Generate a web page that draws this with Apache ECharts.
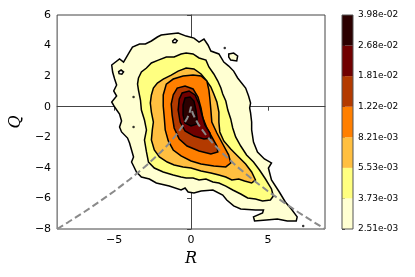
<!DOCTYPE html>
<html><head><meta charset="utf-8">
<script src="https://cdn.jsdelivr.net/npm/echarts@6/dist/echarts.min.js"></script>
<style>html,body{margin:0;padding:0;background:#fff}#c{width:415px;height:277px}</style>
</head><body><div id="c"></div>
<script>
// ---- data ----
const xTicks = [-5, 0, 5];
const levels = [0.00251, 0.00373, 0.00553, 0.00821, 0.0122, 0.0181, 0.0268, 0.0398];
const bandColors = ['#ffffd2', '#ffff80', '#ffbf40', '#ff7f00', '#b33a00', '#700000', '#2b0000'];

// contour at 2.51e-03 (outermost)
const contour1 = [[-5.16,2.73],[-4.65,3.12],[-4.39,2.92],[-4.0,3.58],[-3.81,3.90],[-3.35,4.10],[-2.97,4.10],[-2.58,4.30],[-2.19,4.56],[-1.94,4.69],[-1.42,4.75],[-0.84,4.82],[-0.32,4.62],[0.19,4.49],[0.52,4.23],[0.84,4.43],[1.10,4.04],[1.29,3.64],[1.81,3.45],[2.13,2.92],[2.45,2.66],[2.77,2.33],[3.03,1.88],[3.55,1.22],[3.74,0.70],[3.87,0.24],[3.81,-0.08],[3.87,-0.41],[3.94,-1.0],[3.94,-1.52],[4.06,-2.31],[4.32,-2.96],[4.77,-3.42],[5.23,-3.68],[5.03,-4.01],[5.23,-4.79],[5.74,-5.58],[6.13,-6.23],[6.52,-6.69],[6.90,-7.21],[6.84,-7.48],[6.26,-7.48],[5.61,-7.34],[4.90,-7.41],[4.13,-7.48],[4.06,-7.21],[4.65,-6.95],[4.71,-6.76],[4.19,-6.76],[3.23,-6.69],[2.77,-6.49],[2.32,-6.10],[2.06,-5.78],[1.42,-5.45],[0.65,-5.51],[0.19,-5.64],[-0.19,-5.58],[-0.39,-5.32],[-0.65,-5.45],[-1.42,-5.19],[-2.26,-4.99],[-2.71,-4.73],[-3.23,-4.60],[-3.55,-4.27],[-3.74,-3.88],[-3.87,-3.62],[-3.74,-3.29],[-3.87,-2.83],[-4.0,-2.37],[-4.13,-2.05],[-4.52,-1.65],[-4.65,-1.33],[-4.52,-0.94],[-4.65,-0.48],[-4.97,-0.02],[-5.16,0.31],[-4.84,0.70],[-5.03,1.03],[-4.84,1.42],[-4.97,1.81],[-5.10,2.27]];
// contour at 3.73e-03
const contour2 = [[-3.42,1.88],[-3.23,2.27],[-2.90,2.53],[-2.58,2.86],[-2.13,3.05],[-1.61,3.25],[-1.10,3.25],[-0.65,3.45],[-0.32,3.51],[0.13,3.45],[0.52,3.19],[0.97,3.05],[1.16,2.60],[1.48,2.14],[1.74,1.68],[1.94,1.22],[2.06,0.83],[2.26,0.37],[2.39,-0.22],[2.58,-0.80],[2.71,-1.39],[2.90,-1.98],[3.23,-2.57],[3.61,-3.16],[4.06,-3.62],[4.45,-4.14],[4.84,-4.73],[5.23,-5.38],[5.35,-5.84],[5.16,-6.10],[4.65,-6.17],[4.19,-6.04],[3.68,-5.97],[3.23,-5.71],[2.71,-5.45],[2.26,-5.19],[1.81,-4.99],[1.42,-4.92],[0.97,-4.73],[0.52,-4.79],[0.13,-4.66],[-0.32,-4.66],[-0.65,-4.60],[-1.16,-4.47],[-1.81,-4.27],[-2.39,-4.01],[-2.77,-3.62],[-2.90,-2.96],[-3.03,-2.18],[-2.90,-1.52],[-3.03,-0.87],[-3.23,-0.22],[-3.29,0.44],[-3.42,1.09],[-3.48,1.48]];
// contour at 5.53e-03
const contour3 = [[-2.58,0.77],[-2.45,1.22],[-2.19,1.55],[-1.81,1.81],[-1.29,2.07],[-0.84,2.33],[-0.32,2.53],[0.19,2.47],[0.65,2.14],[0.97,1.75],[1.29,1.29],[1.48,0.83],[1.68,0.31],[1.81,-0.35],[1.81,-1.01],[1.87,-1.65],[2.13,-2.24],[2.58,-2.77],[3.03,-3.22],[3.55,-3.75],[3.94,-4.27],[4.19,-4.79],[3.94,-4.99],[3.48,-4.86],[3.10,-4.73],[2.65,-4.79],[2.26,-4.60],[1.81,-4.47],[1.29,-4.34],[0.65,-4.21],[0,-4.01],[-0.52,-3.94],[-1.10,-3.81],[-1.55,-3.62],[-2.06,-3.29],[-2.39,-2.83],[-2.58,-2.18],[-2.52,-1.52],[-2.45,-1.0],[-2.58,-0.35],[-2.65,0.24]];
// contour at 8.21e-03
const contour4 = [[-1.81,0.77],[-1.61,1.48],[-1.16,1.81],[-0.52,2.01],[0.13,2.07],[0.65,2.01],[1.03,1.68],[1.16,1.09],[1.23,0.44],[1.29,-0.22],[1.35,-1.0],[1.68,-1.72],[2.06,-2.44],[2.45,-3.16],[2.58,-3.68],[2.26,-3.94],[1.48,-3.88],[0.65,-3.75],[0,-3.55],[-0.65,-3.22],[-1.16,-2.83],[-1.48,-2.24],[-1.68,-1.52],[-1.74,-0.74],[-1.81,0.05]];
// contour at 1.22e-02
const contour5 = [[-1.16,0.77],[-0.90,1.22],[-0.39,1.35],[0.13,1.16],[0.45,0.63],[0.65,-0.09],[0.77,-0.74],[1.03,-1.39],[1.35,-1.98],[1.68,-2.57],[1.74,-2.96],[1.29,-3.09],[0.52,-2.90],[-0.26,-2.57],[-0.77,-2.11],[-1.10,-1.39],[-1.23,-0.55],[-1.29,0.18]];
// contour at 1.81e-02
const contour6 = [[-0.77,0.50],[-0.58,0.90],[-0.13,1.03],[0.26,0.77],[0.52,0.18],[0.71,-0.54],[0.90,-1.20],[1.23,-1.72],[1.29,-2.05],[0.84,-2.11],[0.19,-1.92],[-0.39,-1.59],[-0.71,-1.0],[-0.84,-0.22]];
// contour at 2.68e-02
const contour7 = [[-0.52,0.11],[-0.39,0.57],[-0.06,0.63],[0.19,0.37],[0.32,-0.22],[0.39,-0.74],[0.39,-1.13],[0,-1.26],[-0.39,-1.07],[-0.52,-0.54]];
// small islands / holes of the outer level
const island1 = [[2.45,3.45],[2.77,3.51],[3.03,3.32],[2.97,2.99],[2.58,3.05],[2.45,3.25]];
const hole1 = [[-4.71,2.30],[-4.55,2.40],[-4.39,2.28],[-4.5,2.13],[-4.68,2.16]];
const hole2 = [[-1.2,4.3],[-1.05,4.43],[-0.9,4.32],[-1.0,4.18],[-1.17,4.2]];
const dotsR = [-3.74, -3.74, 2.19, 7.29];
const dotsQ = [0.63, -1.33, 3.84, -7.8];
// Vieillefosse line
const vfR = [-8.71,-8,-7,-6,-5,-4,-3,-2,-1.5,-1,-0.5,-0.25,-0.1,0,0.1,0.25,0.5,1,1.5,2,3,4,5,6,7,8,8.71];
const vfQ = [-8,-7.56,-6.92,-6.24,-5.53,-4.76,-3.93,-3.0,-2.48,-1.89,-1.19,-0.75,-0.41,0,-0.41,-0.75,-1.19,-1.89,-2.48,-3.0,-3.93,-4.76,-5.53,-6.24,-6.92,-7.56,-8];

// ---- chart ----
const minus = v => String(v).replace('-', '\u2212');
function fmtExp(v) {
  const s = v.toExponential(2); const [m, e] = s.split('e');
  const n = parseInt(e, 10); const sign = n < 0 ? '-' : '+';
  return m + 'e' + sign + String(Math.abs(n)).padStart(2, '0');
}
let zc = 2;
function poly(points, fill) {
  return {
    type: 'custom', xAxisIndex: 0, yAxisIndex: 0, z: zc++, silent: true,
    data: points, encode: {x: 0, y: 1},
    renderItem(params, api) {
      if (params.dataIndex !== 0) return null;
      const pts = points.map(p => api.coord(p));
      return {type: 'polygon', shape: {points: pts}, style: {fill: fill, stroke: '#000', lineWidth: 1.5}};
    }
  };
}
const series = [
  poly(contour1, bandColors[0]), poly(island1, bandColors[0]),
  poly(contour2, bandColors[1]), poly(contour3, bandColors[2]), poly(contour4, bandColors[3]),
  poly(contour5, bandColors[4]), poly(contour6, bandColors[5]), poly(contour7, bandColors[6]),
  poly(hole1, '#ffffff'), poly(hole2, '#ffffff'),
  {type: 'scatter', xAxisIndex: 0, yAxisIndex: 0, z: 30, silent: true, symbolSize: 2.5,
   itemStyle: {color: '#000'}, data: dotsR.map((r, i) => [r, dotsQ[i]])},
  {type: 'line', xAxisIndex: 0, yAxisIndex: 0, z: 40, silent: true, symbol: 'none',
   lineStyle: {color: '#8a8a8a', width: 2, type: [7, 3.5]}, data: vfR.map((r, i) => [r, vfQ[i]])},
  {type: 'custom', xAxisIndex: 1, yAxisIndex: 1, z: 5, silent: true,
   data: bandColors.map((c, i) => [0, i]),
   renderItem(params, api) {
     const i = params.dataIndex;
     const a = api.coord([0, i + 1]), b = api.coord([1, i]);
     return {type: 'rect', shape: {x: a[0], y: a[1], width: b[0] - a[0], height: b[1] - a[1]},
       style: {fill: bandColors[i]}};
   }},
  {type: 'custom', xAxisIndex: 1, yAxisIndex: 1, z: 6, silent: true, data: [[0, 0]],
   renderItem(params, api) {
     const a = api.coord([0, 7]), b = api.coord([1, 0]);
     return {type: 'rect', shape: {x: a[0], y: a[1], width: b[0] - a[0], height: b[1] - a[1]},
       style: {fill: 'none', stroke: '#555', lineWidth: 1}};
   }}
];
const chart = echarts.init(document.getElementById('c'), null, {renderer: 'canvas'});
chart.setOption({
  animation: false,
  backgroundColor: '#fff',
  grid: [
    {left: 55, top: 15, width: 270, height: 214, show: true, borderColor: '#444', borderWidth: 1},
    {left: 342, top: 15, width: 11, height: 214}
  ],
  xAxis: [
    {type: 'value', gridIndex: 0, min: -8.71, max: 8.71, name: 'R', nameLocation: 'middle', nameGap: 22,
     nameTextStyle: {fontFamily: 'DejaVu Serif', fontStyle: 'italic', fontSize: 16, color: '#000'},
     axisLine: {show: true, lineStyle: {color: '#444', width: 1}},
     axisTick: {show: true, customValues: xTicks, inside: false, length: 4, lineStyle: {color: '#444'}},
     axisLabel: {customValues: xTicks, formatter: minus, margin: 6, fontFamily: 'DejaVu Sans', fontSize: 11, color: '#000'},
     splitLine: {show: false}},
    {type: 'value', gridIndex: 1, min: 0, max: 1, show: false}
  ],
  yAxis: [
    {type: 'value', gridIndex: 0, min: -8, max: 6, interval: 2, name: 'Q', nameLocation: 'middle', nameGap: 20,
     nameTextStyle: {fontFamily: 'DejaVu Serif', fontStyle: 'italic', fontSize: 16, color: '#000'},
     axisLine: {show: true, lineStyle: {color: '#444', width: 1}},
     axisTick: {show: true, inside: false, length: 4, lineStyle: {color: '#444'}},
     axisLabel: {formatter: minus, margin: 6, fontFamily: 'DejaVu Sans', fontSize: 11, color: '#000'},
     splitLine: {show: false}},
    {type: 'value', gridIndex: 1, min: 0, max: 7, interval: 1, position: 'right',
     axisLine: {show: false},
     axisTick: {show: true, inside: false, length: 3, lineStyle: {color: '#444'}},
     axisLabel: {formatter: v => fmtExp(levels[Math.round(v)]), margin: 5, fontFamily: 'DejaVu Sans', fontSize: 9, color: '#000'},
     splitLine: {show: false}}
  ],
  series: series
});
</script></body></html>
